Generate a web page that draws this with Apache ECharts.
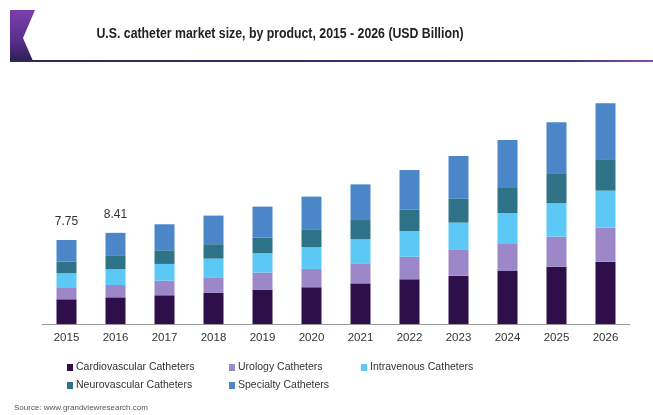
<!DOCTYPE html>
<html>
<head>
<meta charset="utf-8">
<script src="https://cdn.jsdelivr.net/npm/echarts@6/dist/echarts.min.js"></script>
<style>
html,body{margin:0;padding:0;background:#fff;}
#chart{width:653px;height:415px;}
</style>
</head>
<body>
<div id="chart"></div>
<script>
const years = ['2015','2016','2017','2018','2019','2020','2021','2022','2023','2024','2025','2026'];
const cardiovascular = [2.28, 2.46, 2.65, 2.89, 3.14, 3.39, 3.75, 4.12, 4.46, 4.89, 5.29, 5.75];
const urology        = [1.11, 1.14, 1.35, 1.42, 1.60, 1.69, 1.85, 2.08, 2.37, 2.56, 2.77, 3.14];
const intravenous    = [1.29, 1.45, 1.54, 1.72, 1.79, 2.00, 2.21, 2.37, 2.52, 2.77, 3.08, 3.41];
const neurovascular  = [1.07, 1.23, 1.26, 1.33, 1.44, 1.66, 1.78, 2.00, 2.21, 2.40, 2.77, 2.90];
const specialty      = [2.00, 2.13, 2.40, 2.64, 2.86, 3.01, 3.29, 3.63, 3.94, 4.36, 4.70, 5.17];
const totalLabels    = ['7.75', '8.41', '', '', '', '', '', '', '', '', '', ''];

const names = ['Cardiovascular Catheters','Urology Catheters','Intravenous Catheters','Neurovascular Catheters','Specialty Catheters'];
const colors = ['#2e0f4a','#9c88c8','#5bc8f5','#2e7388','#4a86c8'];
const values = [cardiovascular, urology, intravenous, neurovascular, specialty];

const FONT = '"Liberation Sans", Arial, sans-serif';

const chart = echarts.init(document.getElementById('chart'), null, {renderer:'canvas'});

const series = names.map((n, i) => {
  const s = {
    name: n, type: 'bar', stack: 'total', barWidth: 20,
    itemStyle: {color: colors[i]},
    data: values[i]
  };
  if (i === 4) {
    s.label = {
      show: true, position: 'top', distance: 12,
      fontFamily: FONT, fontSize: 12, color: '#333',
      formatter: p => totalLabels[p.dataIndex]
    };
  }
  return s;
});

const legendPos = [
  {left: 67, top: 362}, {left: 229, top: 362}, {left: 361, top: 362},
  {left: 67, top: 380}, {left: 229, top: 380}
];
const legends = names.map((n, i) => ({
  data: [n], left: legendPos[i].left, top: legendPos[i].top,
  icon: 'rect', itemWidth: 6, itemHeight: 7, itemGap: 4,
  textStyle: {fontFamily: FONT, fontSize: 10.5, color: '#333', padding: [0,0,0,-2]},
  padding: 0, selectedMode: false
}));

chart.setOption({
  animation: false,
  backgroundColor: '#fff',
  legend: legends,
  grid: {left: 42, right: 23, top: 85.5, bottom: 91},
  xAxis: {
    type: 'category', data: years,
    axisLine: {lineStyle: {color: '#999', width: 1}},
    axisTick: {show: false},
    axisLabel: {fontFamily: FONT, fontSize: 11.5, color: '#333', margin: 8}
  },
  yAxis: {
    type: 'value', min: 0, max: 22, show: false,
    splitLine: {show: false}
  },
  series: series,
  graphic: [
    {
      type: 'polygon', z: 10,
      shape: {points: [[10,10],[35,10],[23,38],[33,61],[10,61]]},
      style: {fill: new echarts.graphic.LinearGradient(0,0,0,1,[
        {offset:0, color:'#7a3fae'}, {offset:0.6, color:'#5a2e8c'}, {offset:1, color:'#2c2050'}])}
    },
    {
      type: 'rect', z: 10,
      shape: {x: 10, y: 60, width: 643, height: 2},
      style: {fill: new echarts.graphic.LinearGradient(0,0,1,0,[
        {offset:0, color:'#2c2a5a'}, {offset:0.85, color:'#3a3470'}, {offset:1, color:'#8a4ab0'}])}
    },
    {
      type: 'text', x: 280, y: 34, scaleX: 0.82, z: 10,
      style: {
        text: 'U.S. catheter market size, by product, 2015 - 2026 (USD Billion)',
        font: 'bold 15px ' + FONT, fill: '#222',
        textAlign: 'center', textVerticalAlign: 'middle'
      }
    },
    {
      type: 'text', left: 14, top: 404, z: 10,
      style: {text: 'Source: www.grandviewresearch.com', font: '8px ' + FONT, fill: '#555'}
    }
  ]
});
</script>
</body>
</html>
